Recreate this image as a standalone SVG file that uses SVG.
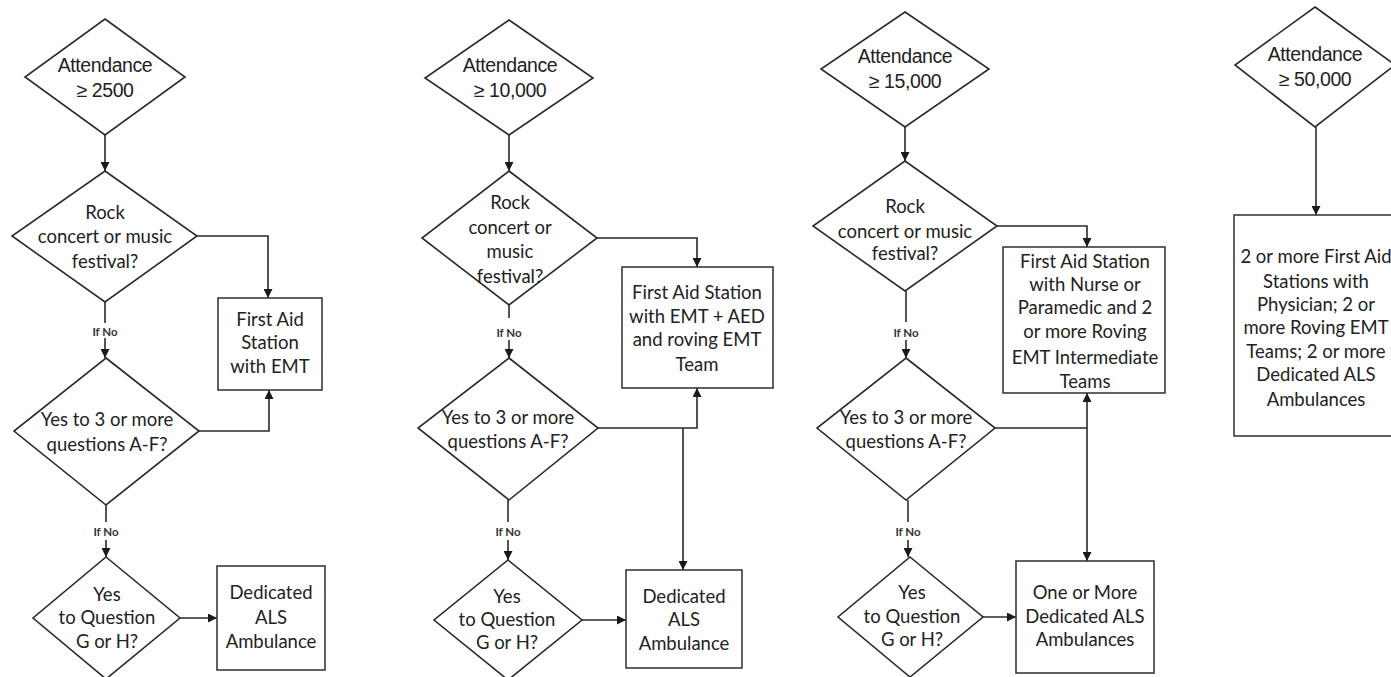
<svg xmlns="http://www.w3.org/2000/svg" width="1391" height="677" viewBox="0 0 1391 677">
<style>
.d{fill:#fff;stroke:#2a2a2a;stroke-width:1.6}
.b{fill:#fff;stroke:#3a3a3a;stroke-width:1.6}
.c{fill:none;stroke:#2a2a2a;stroke-width:1.6}
.a{fill:none;stroke:#2a2a2a;stroke-width:1.6;marker-end:url(#arr)}
.t{font-family:Lato,"Liberation Sans",sans-serif;font-size:18.5px;fill:#222;text-anchor:middle}
.h{font-family:"Liberation Sans",Arial,sans-serif;font-size:19.5px;fill:#222;text-anchor:middle;letter-spacing:-0.4px}
.n{font-family:Lato,"Liberation Sans",sans-serif;font-size:11.5px;font-weight:bold;fill:#333;text-anchor:middle}
</style>
<defs>
<marker id="arr" viewBox="0 0 10 10" refX="10" refY="5" markerWidth="9" markerHeight="9" orient="auto" markerUnits="userSpaceOnUse">
<path d="M0,0 L10,5 L0,10 z" fill="#1a1a1a"/>
</marker>
</defs>
<rect width="1391" height="677" fill="#fff"/>

<g id="connectors">
<!-- column 1 -->
<path class="a" d="M105,135 V171"/>
<path class="a" d="M197,236 H268 V298"/>
<path class="c" d="M105,302 V323"/>
<path class="a" d="M105,338 V358"/>
<path class="a" d="M199,431 H269 V390"/>
<path class="c" d="M106,505 V522"/>
<path class="a" d="M106,540 V557"/>
<path class="a" d="M180,618 H217"/>
<!-- column 2 -->
<path class="a" d="M509,135 V171"/>
<path class="a" d="M597,238 H697 V267"/>
<path class="c" d="M509,305 V318"/>
<path class="a" d="M509,340 V358"/>
<path class="a" d="M598,428 H697 V388"/>
<path class="a" d="M683,428 V570"/>
<path class="c" d="M508,500 V522"/>
<path class="a" d="M508,540 V560"/>
<path class="a" d="M582,620 H626"/>
<!-- column 3 -->
<path class="a" d="M905,127 V161"/>
<path class="a" d="M997,226 H1087 V247"/>
<path class="c" d="M906,291 V322"/>
<path class="a" d="M906,340 V358"/>
<path class="a" d="M995,428 H1087 V393"/>
<path class="a" d="M1087,428 V561"/>
<path class="c" d="M908,500 V522"/>
<path class="a" d="M908,540 V557"/>
<path class="a" d="M983,617 H1016"/>
<!-- column 4 -->
<path class="a" d="M1316,127 V215"/>
</g>

<g id="labels">
<text class="n" x="105" y="336">If No</text>
<text class="n" x="106" y="536">If No</text>
<text class="n" x="509" y="337">If No</text>
<text class="n" x="508" y="536">If No</text>
<text class="n" x="906" y="337">If No</text>
<text class="n" x="908" y="536">If No</text>
</g>

<!-- column 1 -->
<g id="c1-attendance">
<polygon class="d" points="105,19 185,77 105,135 25,77"/>
<text class="h" x="105" y="72">Attendance</text>
<text class="h" x="105" y="97">≥ 2500</text>
</g>
<g id="c1-rock">
<polygon class="d" points="105,171 197,236 105,302 12,236"/>
<text class="t" x="105" y="219">Rock</text>
<text class="t" x="105" y="243">concert or music</text>
<text class="t" x="105" y="268">festival?</text>
</g>
<g id="c1-first-aid">
<rect class="b" x="218" y="298" width="104" height="92"/>
<text class="t" x="270" y="326">First Aid</text>
<text class="t" x="270" y="349">Station</text>
<text class="t" x="270" y="373">with EMT</text>
</g>
<g id="c1-questions">
<polygon class="d" points="106,358 199,431 106,505 14,431"/>
<text class="t" x="107" y="426">Yes to 3 or more</text>
<text class="t" x="107" y="451">questions A-F?</text>
</g>
<g id="c1-gh">
<polygon class="d" points="106,557 180,618 106,679 33,618"/>
<text class="t" x="107" y="601">Yes</text>
<text class="t" x="107" y="624">to Question</text>
<text class="t" x="107" y="648">G or H?</text>
</g>
<g id="c1-als">
<rect class="b" x="217" y="566" width="108" height="104"/>
<text class="t" x="271" y="599">Dedicated</text>
<text class="t" x="271" y="624">ALS</text>
<text class="t" x="271" y="648">Ambulance</text>
</g>

<!-- column 2 -->
<g id="c2-attendance">
<polygon class="d" points="509,20 593,78 509,135 425,78"/>
<text class="h" x="510" y="72">Attendance</text>
<text class="h" x="510" y="97">≥ 10,000</text>
</g>
<g id="c2-rock">
<polygon class="d" points="509,171 597,238 509,305 422,238"/>
<text class="t" x="510" y="209">Rock</text>
<text class="t" x="510" y="234">concert or</text>
<text class="t" x="510" y="258">music</text>
<text class="t" x="510" y="283">festival?</text>
</g>
<g id="c2-first-aid">
<rect class="b" x="622" y="267" width="151" height="121"/>
<text class="t" x="697" y="299">First Aid Station</text>
<text class="t" x="697" y="323">with EMT + AED</text>
<text class="t" x="697" y="346">and roving EMT</text>
<text class="t" x="697" y="371">Team</text>
</g>
<g id="c2-questions">
<polygon class="d" points="509,358 598,428 509,500 418,428"/>
<text class="t" x="508" y="424">Yes to 3 or more</text>
<text class="t" x="508" y="448">questions A-F?</text>
</g>
<g id="c2-gh">
<polygon class="d" points="508,560 582,620 508,680 434,620"/>
<text class="t" x="507" y="603">Yes</text>
<text class="t" x="507" y="626">to Question</text>
<text class="t" x="507" y="649">G or H?</text>
</g>
<g id="c2-als">
<rect class="b" x="626" y="570" width="116" height="98"/>
<text class="t" x="684" y="603">Dedicated</text>
<text class="t" x="684" y="626">ALS</text>
<text class="t" x="684" y="650">Ambulance</text>
</g>

<!-- column 3 -->
<g id="c3-attendance">
<polygon class="d" points="905,12 989,69 905,127 821,69"/>
<text class="h" x="905" y="63">Attendance</text>
<text class="h" x="905" y="88">≥ 15,000</text>
</g>
<g id="c3-rock">
<polygon class="d" points="905,161 997,226 905,291 813,226"/>
<text class="t" x="905" y="213">Rock</text>
<text class="t" x="905" y="238">concert or music</text>
<text class="t" x="905" y="260">festival?</text>
</g>
<g id="c3-first-aid">
<rect class="b" x="1003" y="247" width="162" height="146"/>
<text class="t" x="1085" y="268">First Aid Station</text>
<text class="t" x="1085" y="291">with Nurse or</text>
<text class="t" x="1085" y="314">Paramedic and 2</text>
<text class="t" x="1085" y="338">or more Roving</text>
<text class="t" x="1085" y="364">EMT Intermediate</text>
<text class="t" x="1085" y="388">Teams</text>
</g>
<g id="c3-questions">
<polygon class="d" points="906,358 995,428 906,500 817,428"/>
<text class="t" x="906" y="424">Yes to 3 or more</text>
<text class="t" x="906" y="448">questions A-F?</text>
</g>
<g id="c3-gh">
<polygon class="d" points="910,557 983,617 910,677 838,617"/>
<text class="t" x="912" y="599">Yes</text>
<text class="t" x="912" y="623">to Question</text>
<text class="t" x="912" y="646">G or H?</text>
</g>
<g id="c3-als">
<rect class="b" x="1016" y="561" width="138" height="112"/>
<text class="t" x="1085" y="599">One or More</text>
<text class="t" x="1085" y="623">Dedicated ALS</text>
<text class="t" x="1085" y="646">Ambulances</text>
</g>

<!-- column 4 -->
<g id="c4-attendance">
<polygon class="d" points="1315,7 1395,65 1315,127 1235,65"/>
<text class="h" x="1315" y="61">Attendance</text>
<text class="h" x="1315" y="86">≥ 50,000</text>
</g>
<g id="c4-result">
<rect class="b" x="1234" y="215" width="170" height="221"/>
<text class="t" x="1316" y="263">2 or more First Aid</text>
<text class="t" x="1316" y="288">Stations with</text>
<text class="t" x="1316" y="311">Physician;  2 or</text>
<text class="t" x="1316" y="334">more Roving EMT</text>
<text class="t" x="1316" y="358">Teams; 2 or more</text>
<text class="t" x="1316" y="381">Dedicated ALS</text>
<text class="t" x="1316" y="406">Ambulances</text>
</g>
</svg>
